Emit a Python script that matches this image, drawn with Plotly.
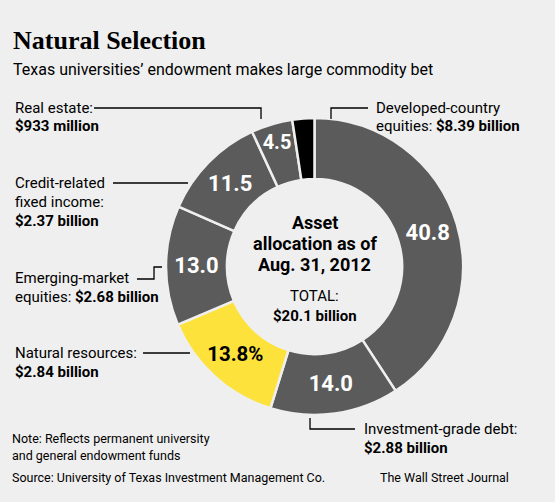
import plotly.graph_objects as go

W = 555
H = 502

categories = ["Developed-country equities", "Investment-grade debt", "Natural resources",
              "Emerging-market equities", "Credit-related fixed income", "Real estate", "Other"]
shares = [40.8, 14.0, 13.8, 13.0, 11.5, 4.5, 2.4]
slice_text = ["40.8", "14.0", "13.8%", "13.0", "11.5", "4.5", ""]
slice_colors = ["#5b5b5b", "#5b5b5b", "#fde23c", "#5b5b5b", "#5b5b5b", "#5b5b5b", "#000000"]
text_colors = ["white", "white", "black", "white", "white", "white", "white"]

BG = "#efefef"
SANS = "Roboto, Liberation Sans, sans-serif"


def px(x, y):
    return x / W, 1 - y / H


# pie geometry in pixels (center and radius)
cx, cy, r = 314.5, 266.5, 148.5

trace = go.Pie(
    labels=categories,
    values=shares,
    text=slice_text,
    textinfo="text",
    textposition="inside",
    insidetextorientation="horizontal",
    textfont=dict(family=SANS, size=22, color=text_colors, weight="bold"),
    marker=dict(colors=slice_colors, line=dict(color=BG, width=2.5)),
    hole=0.59,
    sort=False,
    direction="clockwise",
    rotation=0,
    domain=dict(x=[(cx - r) / W, (cx + r) / W], y=[1 - (cy + r) / H, 1 - (cy - r) / H]),
    showlegend=False,
    hoverinfo="label+value",
)

fig = go.Figure(data=[trace])

ann = []


def label(x, y, txt, size=15, family=SANS, anchor="left", color="black"):
    ax, ay = px(x, y)
    ann.append(dict(x=ax, y=ay, xref="paper", yref="paper", text=txt, showarrow=False,
                    xanchor=anchor, yanchor="middle", align=anchor,
                    font=dict(family=family, size=size, color=color)))


label(11, 40, "<b>Natural Selection</b>", size=26, family="Liberation Serif, DejaVu Serif, serif")
label(11, 69, "Texas universities’ endowment makes large commodity bet", size=16)

label(13, 108, "Real estate:")
label(13, 126, "<b>$933 million</b>")
label(374, 108, "Developed-country")
label(374, 126, "equities: <b>$8.39 billion</b>")
label(13, 183, "Credit-related")
label(13, 202, "fixed income:")
label(13, 221, "<b>$2.37 billion</b>")
label(13, 278, "Emerging-market")
label(13, 297, "equities: <b>$2.68 billion</b>")
label(13, 353, "Natural resources:")
label(13, 372, "<b>$2.84 billion</b>")
label(362, 429, "Investment-grade debt:")
label(362, 448, "<b>$2.88 billion</b>")

label(10, 438, "Note: Reflects permanent university", size=12.5)
label(10, 455, "and general endowment funds", size=12.5)
label(10, 477, "Source: University of Texas Investment Management Co.", size=12.5)
label(511, 477, "The Wall Street Journal", size=12.5, anchor="right")

# center of the donut
label(cx, 222, "<b>Asset</b>", size=18, anchor="center")
label(cx, 243, "<b>allocation as of</b>", size=18, anchor="center")
label(cx, 264, "<b>Aug. 31, 2012</b>", size=18, anchor="center")
label(cx, 296, "TOTAL:", size=15, anchor="center")
label(cx, 316, "<b>$20.1 billion</b>", size=15, anchor="center")

# leader lines
leaders = [
    [(94, 108), (261, 108), (261, 119)],
    [(331, 119), (331, 108), (368, 108)],
    [(113, 183), (188, 183)],
    [(137, 279), (154, 279), (154, 267), (162, 267)],
    [(143, 353), (190, 353)],
    [(310, 418), (310, 429), (355, 429)],
]
shapes = []
for pts in leaders:
    path = ""
    for i, (x, y) in enumerate(pts):
        a, b = px(x, y)
        path += ("M" if i == 0 else "L") + " %.4f %.4f " % (a, b)
    shapes.append(dict(type="path", path=path.strip(), xref="paper", yref="paper",
                       line=dict(color="black", width=1.3)))

fig.update_layout(
    width=W,
    height=H,
    margin=dict(l=0, r=0, t=0, b=0),
    paper_bgcolor=BG,
    plot_bgcolor=BG,
    annotations=ann,
    shapes=shapes,
)

# the page body has a default margin; drop it so the figure fills the window
fig.write_html("out.html", config={"displayModeBar": False},
               post_script="document.body.style.margin='0';document.body.style.background='%s';" % BG)
